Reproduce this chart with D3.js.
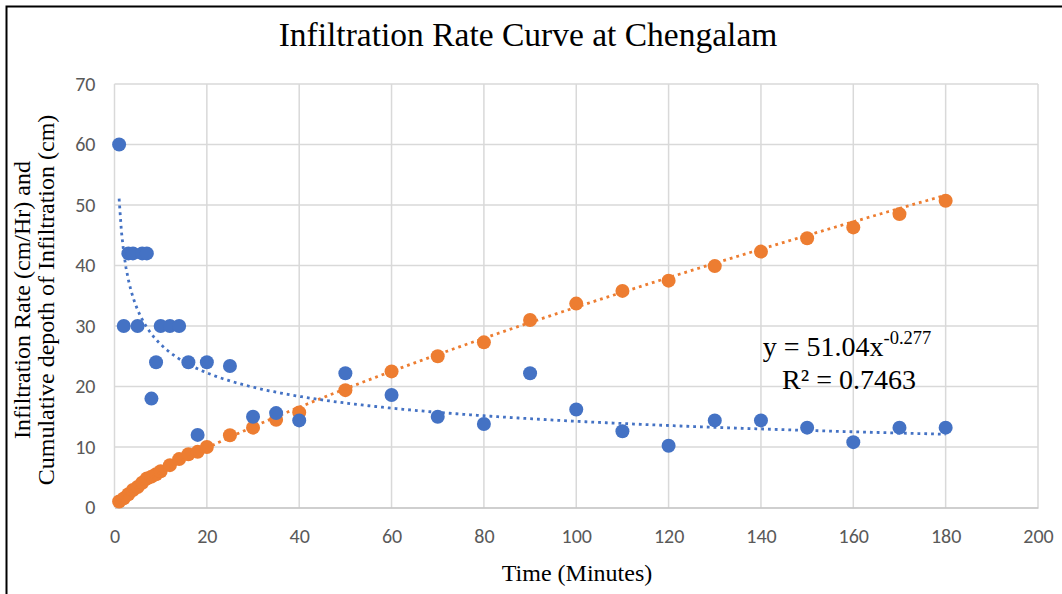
<!DOCTYPE html>
<html>
<head>
<meta charset="utf-8">
<script src="https://cdn.jsdelivr.net/npm/d3@7"></script>
<style>
  html, body { margin: 0; padding: 0; background: #fff; }
  svg { display: block; }
</style>
</head>
<body>
<svg id="chart" width="1062" height="594"></svg>
<script>
// Infiltration test readings at Chengalam
const timeMin = [1, 2, 3, 4, 5, 6, 7, 8, 9, 10, 12, 14, 16, 18, 20, 25, 30, 35, 40,
  50, 60, 70, 80, 90, 100, 110, 120, 130, 140, 150, 160, 170, 180];
const infiltrationRate = [60, 30, 42, 42, 30, 42, 42, 18, 24, 30, 30, 30, 24, 12, 24, 23.4,
  15, 15.6, 14.4, 22.2, 18.6, 15, 13.8, 22.2, 16.2, 12.6, 10.2, 14.4, 14.4, 13.2, 10.8, 13.2, 13.2];
const cumulativeDepth = [1.0, 1.5, 2.2, 2.9, 3.4, 4.1, 4.8, 5.1, 5.5, 6.0, 7.0, 8.0, 8.8, 9.2,
  10.0, 11.95, 13.2, 14.5, 15.7, 19.4, 22.5, 25.0, 27.3, 31.0, 33.7, 35.8, 37.5, 39.9, 42.3,
  44.5, 46.3, 48.5, 50.7];

// Power trend for the rate series: y = a * x^b
const rateTrendA = 51.04;
const rateTrendB = -0.277;
const rateTrendR2 = "0.7463";

const xTicks = [0, 20, 40, 60, 80, 100, 120, 140, 160, 180, 200];
const yTicks = [0, 10, 20, 30, 40, 50, 60, 70];

const BLUE = "#4472C4";
const ORANGE = "#ED7D31";

const svg = d3.select("#chart");
const plot = { left: 114.5, right: 1038, top: 84, bottom: 507.5 };

const x = d3.scaleLinear().domain([0, 200]).range([plot.left, plot.right]);
const y = d3.scaleLinear().domain([0, 70]).range([plot.bottom, plot.top]);

// chart frame
svg.append("rect").attr("x", 6.5).attr("y", 6.5).attr("width", 1070).attr("height", 600)
  .attr("fill", "#fff").attr("stroke", "#000").attr("stroke-width", 2);

const serif = "'Liberation Serif', 'Times New Roman', serif";

// title
svg.append("text").attr("x", 528).attr("y", 46).attr("text-anchor", "middle")
  .attr("font-family", serif).attr("font-size", 33.5).attr("fill", "#000")
  .text("Infiltration  Rate Curve at Chengalam");

// gridlines
const grid = svg.append("g");
grid.selectAll("line.h").data(yTicks.filter(d => d > 0)).join("line")
  .attr("x1", plot.left).attr("x2", plot.right)
  .attr("y1", d => y(d)).attr("y2", d => y(d))
  .attr("stroke", "#d9d9d9").attr("stroke-width", 1.5);
grid.selectAll("line.v").data(xTicks).join("line")
  .attr("x1", d => x(d)).attr("x2", d => x(d))
  .attr("y1", plot.top).attr("y2", plot.bottom)
  .attr("stroke", "#d9d9d9").attr("stroke-width", 1.5);

// axes
const tickFont = "Carlito, Calibri, Lato, 'Open Sans', sans-serif";
const xAxis = svg.append("g").attr("transform", `translate(0,${plot.bottom})`)
  .call(d3.axisBottom(x).tickValues(xTicks).tickSize(0).tickPadding(21));
xAxis.select(".domain").attr("stroke", "#bfbfbf").attr("stroke-width", 1.5);
xAxis.selectAll("text").attr("font-family", tickFont).attr("font-size", 20).attr("fill", "#595959");

const yAxis = svg.append("g").attr("transform", `translate(${plot.left},0)`)
  .call(d3.axisLeft(y).tickValues(yTicks).tickSize(0).tickPadding(19));
yAxis.select(".domain").remove();
yAxis.selectAll("text").attr("font-family", tickFont).attr("font-size", 20).attr("fill", "#595959");

// axis titles
svg.append("text").attr("x", 577).attr("y", 581).attr("text-anchor", "middle")
  .attr("font-family", serif).attr("font-size", 24).attr("fill", "#000")
  .text("Time (Minutes)");

const yTitle = svg.append("text").attr("transform", "translate(0,300) rotate(-90)")
  .attr("text-anchor", "middle").attr("font-family", serif).attr("font-size", 24).attr("fill", "#000");
yTitle.append("tspan").attr("x", 0).attr("y", 30).text("Infiltration Rate (cm/Hr) and");
yTitle.append("tspan").attr("x", 0).attr("y", 54).text("Cumulative depoth of Infiltration (cm)");

// trendlines
const rateTrend = d3.range(1, 180.01, 0.5).map(t => [t, rateTrendA * Math.pow(t, rateTrendB)]);

// power regression (log-log least squares) for the cumulative series
const lx = timeMin.map(Math.log), ly = cumulativeDepth.map(Math.log);
const mx = d3.mean(lx), my = d3.mean(ly);
const depthB = d3.sum(lx.map((v, i) => (v - mx) * (ly[i] - my))) / d3.sum(lx.map(v => (v - mx) ** 2));
const depthA = Math.exp(my - depthB * mx);
const depthTrend = d3.range(1, 180.01, 0.5).map(t => [t, depthA * Math.pow(t, depthB)]);

const line = d3.line().x(d => x(d[0])).y(d => y(d[1]));

const cumPts = timeMin.map((t, i) => [t, cumulativeDepth[i]]);
const ratePts = timeMin.map((t, i) => [t, infiltrationRate[i]]);

// cumulative depth points with trend
svg.append("g").selectAll("circle").data(cumPts).join("circle")
  .attr("cx", d => x(d[0])).attr("cy", d => y(d[1])).attr("r", 7).attr("fill", ORANGE);
svg.append("path").datum(depthTrend).attr("d", line).attr("fill", "none")
  .attr("stroke", ORANGE).attr("stroke-width", 2.8).attr("stroke-dasharray", "2.8 4");

// infiltration rate points with trend
svg.append("g").selectAll("circle").data(ratePts).join("circle")
  .attr("cx", d => x(d[0])).attr("cy", d => y(d[1])).attr("r", 7).attr("fill", BLUE);
svg.append("path").datum(rateTrend).attr("d", line).attr("fill", "none")
  .attr("stroke", BLUE).attr("stroke-width", 2.8).attr("stroke-dasharray", "2.8 4");

// trend equation label
const eq = svg.append("g").attr("font-family", serif).attr("font-size", 28).attr("fill", "#000");
const eqLine = eq.append("text").attr("x", 847).attr("y", 356).attr("text-anchor", "middle");
eqLine.append("tspan").text(`y = ${rateTrendA.toFixed(2)}x`);
eqLine.append("tspan").attr("dy", -12).attr("font-size", 18.5).text(`-${Math.abs(rateTrendB).toFixed(3)}`);
eq.append("text").attr("x", 849).attr("y", 389).attr("text-anchor", "middle")
  .text(`R\u00B2 = ${rateTrendR2}`);
</script>
</body>
</html>
